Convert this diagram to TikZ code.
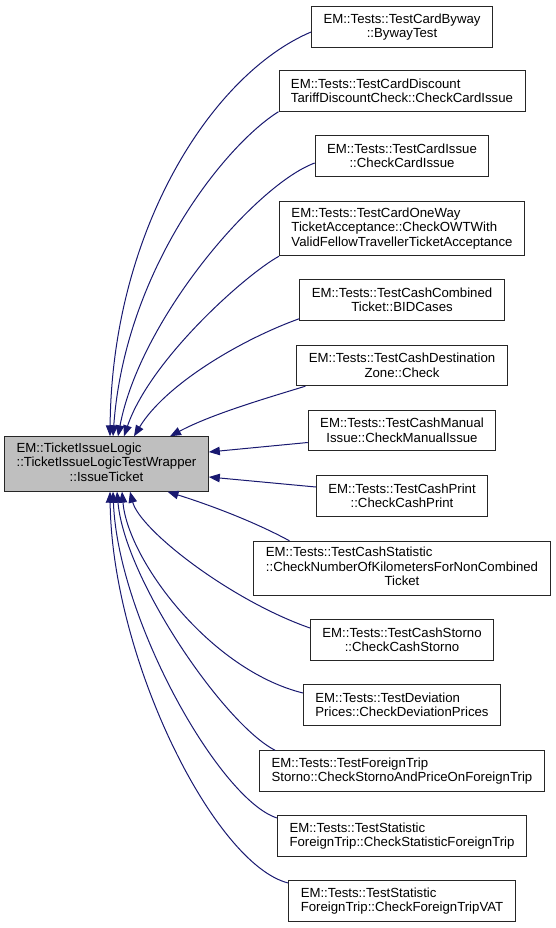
\documentclass[tikz,border=0pt]{standalone}
\usepackage{fontspec}
\setmainfont{Liberation Sans}
\usetikzlibrary{arrows.meta}
\definecolor{edgeblue}{RGB}{25,25,112}
\definecolor{rootgray}{RGB}{191,191,191}

\begin{document}
\begin{tikzpicture}[x=1pt, y=-1pt,
    every node/.style={draw=black!85, line width=0.9pt, inner xsep=12pt, inner ysep=2pt,
      minimum height=40.5pt, font=\fontsize{13.2}{14.5}\selectfont},
    tall/.style={minimum height=54.5pt},
    lft/.style={align=left},
    ctr/.style={align=center},
    call/.style={draw=edgeblue, line width=1pt, -{Triangle[length=11pt, width=8.5pt]}}]
    \useasboundingbox (0,0) rectangle (555,928);
    % Nodes
    \node[tall, fill=rootgray] (root) at (106.5,464)
      {\begin{tabular}{@{}l@{}}EM::TicketIssueLogic\\::TicketIssueLogicTestWrapper\\\multicolumn{1}{@{}c@{}}{::IssueTicket}\end{tabular}};
    \node[ctr] (b1)  at (402,27)    {EM::Tests::TestCardByway\\::BywayTest};
    \node[lft] (b2)  at (402,91)    {EM::Tests::TestCardDiscount\\TariffDiscountCheck::CheckCardIssue};
    \node[ctr] (b3)  at (402,156)   {EM::Tests::TestCardIssue\\::CheckCardIssue};
    \node[lft, tall] (b4) at (402,228.5) {EM::Tests::TestCardOneWay\\TicketAcceptance::CheckOWTWith\\ValidFellowTravellerTicketAcceptance};
    \node[ctr] (b5)  at (402,300)   {EM::Tests::TestCashCombined\\Ticket::BIDCases};
    \node[ctr] (b6)  at (402,365.5) {EM::Tests::TestCashDestination\\Zone::Check};
    \node[ctr] (b7)  at (402,430.5) {EM::Tests::TestCashManual\\Issue::CheckManualIssue};
    \node[ctr] (b8)  at (402,496)   {EM::Tests::TestCashPrint\\::CheckCashPrint};
    \node[tall] (b9) at (402,568.5)
      {\begin{tabular}{@{}l@{}}EM::Tests::TestCashStatistic\\::CheckNumberOfKilometersForNonCombined\\\multicolumn{1}{@{}c@{}}{Ticket}\end{tabular}};
    \node[ctr] (b10) at (402,640)   {EM::Tests::TestCashStorno\\::CheckCashStorno};
    \node[lft] (b11) at (402,705)   {EM::Tests::TestDeviation\\Prices::CheckDeviationPrices};
    \node[lft] (b12) at (402,771)   {EM::Tests::TestForeignTrip\\Storno::CheckStornoAndPriceOnForeignTrip};
    \node[lft] (b13) at (402,836)   {EM::Tests::TestStatistic\\ForeignTrip::CheckStatisticForeignTrip};
    \node[lft] (b14) at (402,901)   {EM::Tests::TestStatistic\\ForeignTrip::CheckForeignTripVAT};
    % Edges (callers point back to root)
    \draw[call] ([yshift=-5pt]b1.west) .. controls (212,74) and (112,230) .. ([xshift=3.5pt]root.north);
    \draw[call] (b2.south west) .. controls (225,145) and (125,270) .. ([xshift=6.5pt]root.north);
    \draw[call] ([yshift=-7pt]b3.west) .. controls (255,185) and (140,320) .. ([xshift=11.5pt]root.north);
    \draw[call] (b4.south west) .. controls (245,275) and (150,360) .. ([xshift=17.5pt]root.north);
    \draw[call] ([yshift=2pt]b5.south west) .. controls (240,340) and (165,385) .. ([xshift=27.5pt]root.north);
    \draw[call] ([xshift=9pt]b6.south west) .. controls (260,400) and (210,415) .. ([xshift=63.5pt]root.north);
    \draw[call] ([yshift=-12pt]b7.west) -- ([yshift=12pt]root.east);
    \draw[call] ([yshift=9pt]b8.west) -- ([yshift=-13pt]root.east);
    \draw[call] ([xshift=36pt]b9.north west) .. controls (255,522) and (210,505) .. ([xshift=61pt]root.south);
    \draw[call] ([yshift=12pt]b10.west) .. controls (230,600) and (140,530) .. ([xshift=23.5pt]root.south);
    \draw[call] ([yshift=12pt]b11.west) .. controls (210,670) and (128,560) .. ([xshift=15.5pt]root.south);
    \draw[call] ([xshift=16pt]b12.north west) .. controls (225,725) and (125,580) .. ([xshift=10.5pt]root.south);
    \draw[call] ([yshift=18pt]b13.west) .. controls (220,800) and (118,620) .. ([xshift=6.5pt]root.south);
    \draw[call] ([yshift=18pt]b14.west) .. controls (215,865) and (112,660) .. ([xshift=3.5pt]root.south);
\end{tikzpicture}
\end{document}
